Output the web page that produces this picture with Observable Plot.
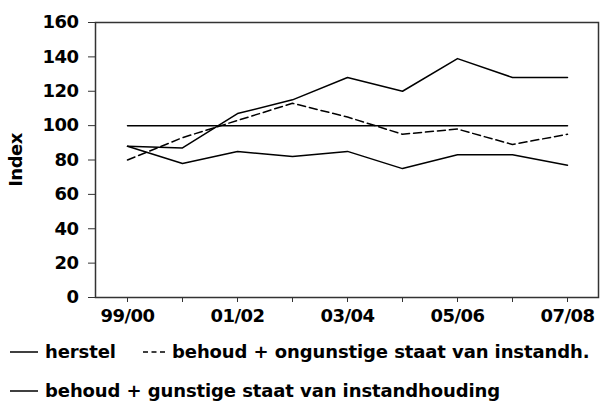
<!DOCTYPE html>
<html>
<head>
<meta charset="utf-8">
<script src="https://cdn.jsdelivr.net/npm/d3@7"></script>
<script src="https://cdn.jsdelivr.net/npm/@observablehq/plot@0.6"></script>
<style>
  body { margin: 0; background: #fff; width: 600px; height: 403px; overflow: hidden; font-family: "DejaVu Sans", sans-serif; font-weight: bold; }
  #chart { position: absolute; left: 0; top: 0; }
  .leg { position: absolute; font-size: 18px; font-weight: bold; color: #000; white-space: nowrap; line-height: 1; letter-spacing: -0.1px; }
  .sw { position: absolute; }
</style>
</head>
<body>
<div id="chart"></div>
<svg class="sw" style="left:10px; top:348px;" width="30" height="8"><line x1="0" x2="28" y1="4" y2="4" stroke="#000" stroke-width="1.5"/></svg>
<div class="leg" style="left:45px; top:343px;">herstel</div>
<svg class="sw" style="left:143px; top:348px;" width="26" height="8"><line x1="0" x2="24" y1="4" y2="4" stroke="#000" stroke-width="1.5" stroke-dasharray="5,3.5"/></svg>
<div class="leg" style="left:172px; top:343px;">behoud + ongunstige staat van instandh.</div>
<svg class="sw" style="left:10px; top:387px;" width="30" height="8"><line x1="0" x2="28" y1="4" y2="4" stroke="#000" stroke-width="1.5"/></svg>
<div class="leg" style="left:45px; top:382px;">behoud + gunstige staat van instandhouding</div>
<script>
const categories = ["99/00","00/01","01/02","02/03","03/04","04/05","05/06","06/07","07/08"];
const herstel   = [88, 87, 107, 115, 128, 120, 139, 128, 128];
const ongunstig = [80, 93, 103, 113, 105, 95, 98, 89, 95];
const gunstig   = [88, 78, 85, 82, 85, 75, 83, 83, 77];
const reference = [100, 100, 100, 100, 100, 100, 100, 100, 100];
const yTicks = [0, 20, 40, 60, 80, 100, 120, 140, 160];

const rows = (vals) => categories.map((c, i) => ({period: c, value: vals[i]}));

const chart = Plot.plot({
  width: 600,
  height: 330,
  marginLeft: 95,
  marginRight: 2,
  marginTop: 22,
  marginBottom: 33,
  style: {fontFamily: "DejaVu Sans, sans-serif", fontSize: "18px", fontWeight: "bold", color: "#000", background: "#fff", letterSpacing: "-0.5px"},
  x: {type: "point", domain: categories, padding: 0.5},
  y: {domain: [0, 160]},
  marks: [
    Plot.frame({stroke: "#333", strokeWidth: 1.5}),
    Plot.axisX({ticks: categories, tickSize: 5, tickPadding: 7, tickFormat: (d) => (categories.indexOf(d) % 2 ? "" : d), label: null, stroke: "#333"}),
    Plot.axisY({ticks: yTicks, tickSize: 7, tickPadding: 10, label: "Index", labelAnchor: "center", labelArrow: "none", labelOffset: 86, stroke: "#333"}),
    Plot.lineY(rows(reference), {x: "period", y: "value", stroke: "#000", strokeWidth: 1.5}),
    Plot.lineY(rows(gunstig), {x: "period", y: "value", stroke: "#000", strokeWidth: 1.5}),
    Plot.lineY(rows(ongunstig), {x: "period", y: "value", stroke: "#000", strokeWidth: 1.5, strokeDasharray: "8,4"}),
    Plot.lineY(rows(herstel), {x: "period", y: "value", stroke: "#000", strokeWidth: 1.5})
  ]
});
document.getElementById("chart").appendChild(chart);
</script>
</body>
</html>
